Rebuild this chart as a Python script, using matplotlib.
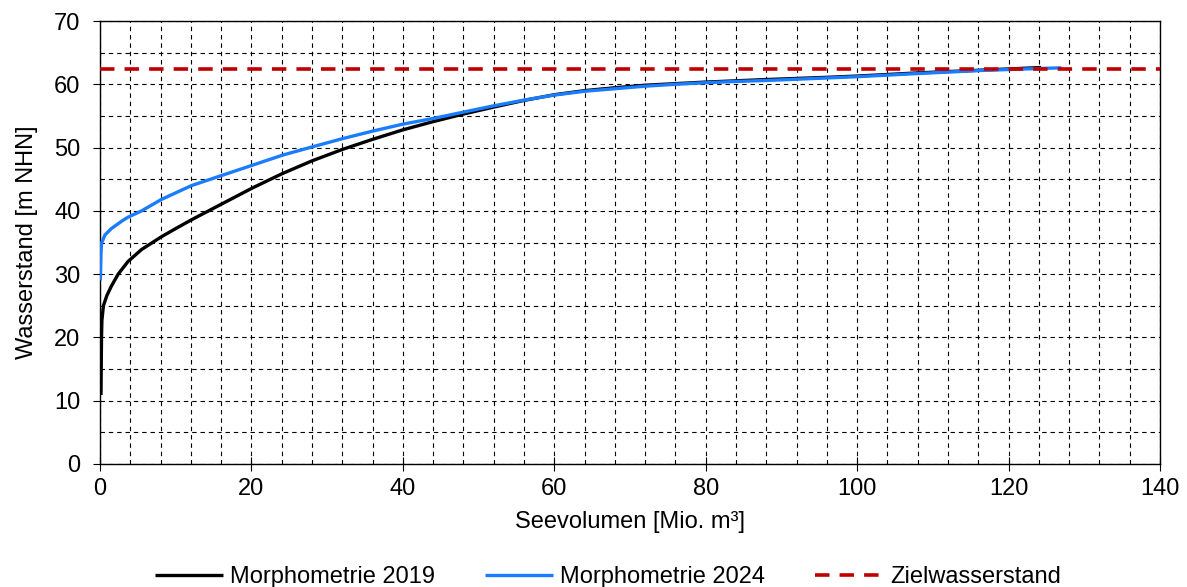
import matplotlib
matplotlib.use("Agg")
import matplotlib.pyplot as plt
from matplotlib.ticker import MultipleLocator

plt.rcParams['font.family'] = ['Liberation Sans', 'DejaVu Sans']

# Morphometrie 2019 (volume in Mio. m³, water level in m NHN)
vol_2019 = [0.13, 0.16, 0.2, 0.25, 0.45, 0.9, 1.5, 2.4, 3.7, 5.5, 8.1, 10.0, 12.1,
            16.1, 20.1, 24.1, 28.0, 32.0, 36.0, 40.0, 44.0, 48.0, 52, 56, 60, 64, 68,
            72, 76, 80, 88, 96, 100, 108, 116.7, 124.3]
lvl_2019 = [10.9, 15, 20, 22.7, 25, 26.6, 28.1, 30, 32.0, 33.9, 35.9, 37.2, 38.6,
            41.1, 43.6, 45.9, 47.9, 49.7, 51.3, 52.8, 54.1, 55.3, 56.4, 57.45, 58.35,
            59.0, 59.45, 59.85, 60.1, 60.35, 60.75, 61.1, 61.3, 61.8, 62.25, 62.65]

# Morphometrie 2024
vol_2024 = [0.05, 0.13, 0.2, 0.66, 1.5, 2.9, 3.7, 5.5, 8.1, 12.1, 16.1, 20.1, 24.1,
            28.0, 32.0, 36.0, 40.0, 44.0, 48.0, 52, 56, 60, 64, 68, 72, 76, 80, 84,
            88, 92, 96, 100, 108, 116.7, 124.2, 127]
lvl_2024 = [29.0, 33.3, 34.9, 36.2, 37.2, 38.4, 39.0, 40.0, 41.8, 44.0, 45.6, 47.2, 48.8,
            50.1, 51.4, 52.6, 53.7, 54.6, 55.6, 56.6, 57.5, 58.3, 58.9, 59.3, 59.7,
            60.0, 60.25, 60.45, 60.6, 60.8, 61.0, 61.2, 61.7, 62.2, 62.5, 62.6]

target_level = 62.4

FS = 17

fig = plt.figure(figsize=(11.87, 5.87), dpi=100)
ax = fig.add_axes([100/1187, 1-464/587, 1060/1187, 443/587])

ax.set_xlim(0, 140)
ax.set_ylim(0, 70)
ax.xaxis.set_major_locator(MultipleLocator(20))
ax.xaxis.set_minor_locator(MultipleLocator(4))
ax.yaxis.set_major_locator(MultipleLocator(10))
ax.yaxis.set_minor_locator(MultipleLocator(5))
ax.grid(which='both', color='black', linestyle=(0, (4, 3.5)), linewidth=0.8)
ax.set_axisbelow(True)

l1, = ax.plot(vol_2019, lvl_2019, color='black', lw=2.4, label='Morphometrie 2019',
              solid_capstyle='butt', solid_joinstyle='round', zorder=3)
l2, = ax.plot(vol_2024, lvl_2024, color='#1a7cff', lw=2.4, label='Morphometrie 2024',
              solid_capstyle='butt', solid_joinstyle='round', zorder=4)
l3 = ax.axhline(target_level, color='#c00000', lw=2.6, dashes=(4, 2.8),
                label='Zielwasserstand', zorder=5)

for s in ax.spines.values():
    s.set_color('black')
    s.set_linewidth(1.0)

ax.tick_params(axis='x', which='major', direction='inout', length=10, width=0.8,
               labelsize=FS, pad=5)
ax.tick_params(axis='y', which='major', direction='out', length=5, width=0.8,
               labelsize=FS, pad=9)
ax.tick_params(which='minor', length=0)

ax.set_xlabel('Seevolumen [Mio. m³]', fontsize=FS, labelpad=8)
ax.set_ylabel('Wasserstand [m NHN]', fontsize=FS, labelpad=12)

fig.legend(handles=[l1, l2, l3], loc='lower center', bbox_to_anchor=(608/1187, -0.038),
           ncol=3, frameon=False, fontsize=FS, handlelength=2.9,
           handletextpad=0.3, columnspacing=2.1)

fig.savefig('out.png', dpi=100)
